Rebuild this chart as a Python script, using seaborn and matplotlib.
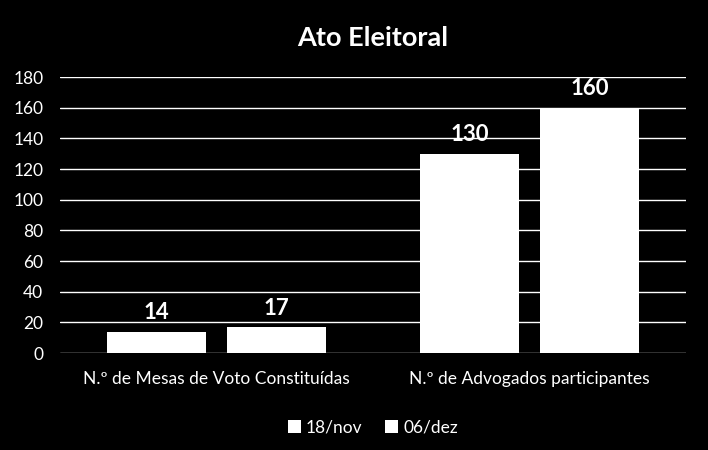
import matplotlib
matplotlib.use("Agg")
import matplotlib.pyplot as plt
import seaborn as sns
import pandas as pd

categories = ["N.º de Mesas de Voto Constituídas", "N.º de Advogados participantes"]
series = ["18/nov", "06/dez"]
values_nov = [14, 130]
values_dez = [17, 160]
yticks = [0, 20, 40, 60, 80, 100, 120, 140, 160, 180]

df = pd.DataFrame({
    "cat": categories * 2,
    "serie": [series[0]] * 2 + [series[1]] * 2,
    "val": values_nov + values_dez,
})

sns.set_style("dark")
plt.rcParams["font.family"] = ["Lato", "DejaVu Sans"]

fig = plt.figure(figsize=(7.08, 4.5), dpi=100, facecolor="black")
ax = fig.add_axes([60/708, 97/450, 626/708, 276/450])
ax.set_facecolor("black")

sns.barplot(data=df, x="cat", y="val", hue="serie", palette=["white", "white"],
            width=0.767, gap=0.183, ax=ax, saturation=1, edgecolor="none")

ax.set_xlim(-0.5, 1.5)
ax.set_ylim(0, 180)
ax.set_yticks(yticks)
ax.grid(axis="y", color="white", linewidth=1)
ax.grid(axis="x", visible=False)
ax.set_axisbelow(True)
for s in ax.spines.values():
    s.set_visible(False)
ax.tick_params(axis="both", length=0, colors="white", labelsize=12.5)
ax.tick_params(axis="y", pad=12)
ax.tick_params(axis="x", pad=13)
ax.set_xlabel("")
ax.set_ylabel("")

for cont in ax.containers:
    ax.bar_label(cont, fmt="%d", color="white", fontsize=16, fontweight="bold", padding=6)

ax.set_title("Ato Eleitoral", color="white", fontsize=19.5, fontweight="bold", pad=22)

leg = ax.legend(loc="upper center", bbox_to_anchor=(0.5, -0.185), ncol=2, frameon=False,
                handlelength=0.75, handleheight=0.75, handletextpad=0.3, columnspacing=1.3,
                fontsize=12.5)
for t in leg.get_texts():
    t.set_color("white")

fig.savefig("out.png", dpi=100, facecolor="black")
